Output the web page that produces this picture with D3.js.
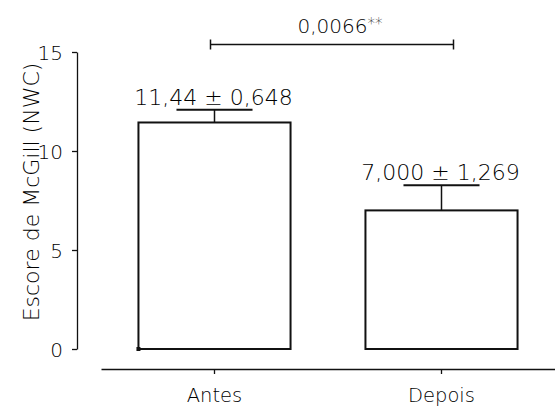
<!DOCTYPE html>
<html>
<head>
<meta charset="utf-8">
<script src="https://cdn.jsdelivr.net/npm/d3@7"></script>
<style>
    body { margin: 0; background: #fff; }
    svg text { font-family: "DejaVu Sans", sans-serif; font-weight: 200; fill: #000; }
</style>
</head>
<body>
<svg id="chart" width="555" height="409"></svg>
<script>
var categories = ["Antes", "Depois"];
var means = [11.44, 7.000];
var sems = [0.648, 1.269];
var valueLabels = ["11,44 \u00B1 0,648", "7,000 \u00B1 1,269"];
var yTicks = [0, 5, 10, 15];
var pLabel = "0,0066";
var pStars = "**";

var yLabel = "Escore de McGill (NWC)";

document.addEventListener('DOMContentLoaded', function () {
    drawChart();
});

function drawChart() {
    const svg = d3.select('#chart');
    svg.selectAll("*").remove();

    let yScale = d3.scaleLinear().domain([0, 15]).range([349, 52]);
    let xScale = d3.scaleBand().domain(categories).range([101, 555])
        .paddingInner(0.33).paddingOuter(0.165);

    // y axis
    let axisLeft = d3.axisLeft(yScale).tickValues(yTicks).tickSize(5).tickSizeOuter(0).tickPadding(9);
    let gy = svg.append('g').attr('transform', 'translate(' + 77 + ', ' + 0 + ')').call(axisLeft);
    gy.selectAll('text').style('font-size', '20px').attr('dy', '0.36em');
    gy.selectAll('path, line').attr('stroke', '#111').attr('stroke-width', 1.3);

    // x axis
    let axisBottom = d3.axisBottom(xScale).tickSize(5).tickSizeOuter(0).tickPadding(14);
    let gx = svg.append('g').attr('transform', 'translate(' + 0 + ', ' + 369 + ')').call(axisBottom);
    gx.selectAll('text').style('font-size', '19.5px');
    gx.selectAll('path, line').attr('stroke', '#111').attr('stroke-width', 1.3);

    // y label
    svg.append('text')
        .attr('transform', 'translate(' + 39 + ', ' + 192 + ') rotate(-90)')
        .attr('text-anchor', 'middle')
        .style('font-size', '22px')
        .text(yLabel);

    var data = categories.map(function (c, i) {
        return { cat: c, mean: means[i], sem: sems[i], label: valueLabels[i] };
    });

    var bw = xScale.bandwidth();

    // bars
    svg.selectAll('.bar')
        .data(data)
        .enter()
        .append('rect')
        .attr('class', 'bar')
        .attr('x', d => xScale(d.cat))
        .attr('y', d => yScale(d.mean))
        .attr('width', bw)
        .attr('height', d => yScale(0) - yScale(d.mean))
        .attr('fill', '#fff')
        .attr('stroke', '#111')
        .attr('stroke-width', 2);

    // small marker at the base of the first bar
    svg.append('rect')
        .attr('x', xScale(categories[0]) - 2)
        .attr('y', yScale(0) - 2)
        .attr('width', 4)
        .attr('height', 4)
        .attr('fill', '#111');

    // error bars
    svg.selectAll('.errLine')
        .data(data)
        .enter()
        .append('line')
        .attr('class', 'errLine')
        .attr('x1', d => xScale(d.cat) + bw / 2)
        .attr('x2', d => xScale(d.cat) + bw / 2)
        .attr('y1', d => yScale(d.mean))
        .attr('y2', d => yScale(d.mean + d.sem))
        .attr('stroke', '#111')
        .attr('stroke-width', 1.5);

    svg.selectAll('.errCap')
        .data(data)
        .enter()
        .append('line')
        .attr('class', 'errCap')
        .attr('x1', d => xScale(d.cat) + bw / 4)
        .attr('x2', d => xScale(d.cat) + bw * 3 / 4)
        .attr('y1', d => yScale(d.mean + d.sem))
        .attr('y2', d => yScale(d.mean + d.sem))
        .attr('stroke', '#111')
        .attr('stroke-width', 2);

    // value labels
    svg.selectAll('.valLabel')
        .data(data)
        .enter()
        .append('text')
        .attr('class', 'valLabel')
        .attr('x', d => xScale(d.cat) + bw / 2 - 1)
        .attr('y', d => yScale(d.mean + d.sem) - 5)
        .attr('text-anchor', 'middle')
        .style('font-size', '22px')
        .text(d => d.label);

    // significance bracket
    var bx1 = xScale(categories[0]) + bw / 2 - 4;
    var bx2 = xScale(categories[1]) + bw / 2 + 12;
    var by = 44.5;
    var br = svg.append('g').attr('stroke', '#111').attr('stroke-width', 1.5);
    br.append('line').attr('x1', bx1).attr('x2', bx2).attr('y1', by).attr('y2', by);
    br.append('line').attr('x1', bx1).attr('x2', bx1).attr('y1', by - 5).attr('y2', by + 5);
    br.append('line').attr('x1', bx2).attr('x2', bx2).attr('y1', by - 5).attr('y2', by + 5);

    var pt = svg.append('text')
        .attr('x', (bx1 + bx2) / 2 + 8)
        .attr('y', 33)
        .attr('text-anchor', 'middle')
        .style('font-size', '20px');
    pt.append('tspan').text(pLabel);
    pt.append('tspan').attr('dy', '-0.25em').style('font-size', '15px').text(pStars);
}
</script>
</body>
</html>
